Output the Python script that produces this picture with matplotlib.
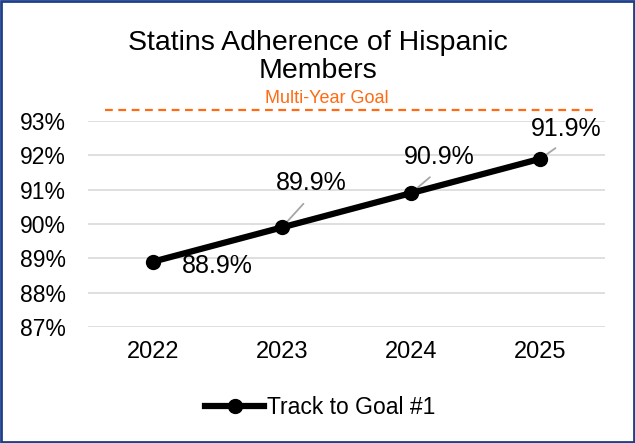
import matplotlib.pyplot as plt
from matplotlib.patches import Rectangle

plt.rcParams['font.family'] = ['Liberation Sans', 'DejaVu Sans']

years = ['2022', '2023', '2024', '2025']
track = [88.9, 89.9, 90.9, 91.9]
labels = ['88.9%', '89.9%', '90.9%', '91.9%']
goal = 93.32

fig = plt.figure(figsize=(6.35, 4.43), dpi=100)
ax = fig.add_axes([88/635, 1 - 327/443, (605-88)/635, (327-121)/443])

x = range(len(years))
ax.plot(x, track, color='black', lw=4.5, marker='o', ms=10, label='Track to Goal #1', zorder=3)

# goal line sits above the plot area
ax.plot([-0.37, 3.44], [goal, goal], color='#FF6A13', lw=1.6, ls=(0, (3.5, 2.5)), clip_on=False)
ax.text(1.35, goal + 0.1, 'Multi-Year Goal', color='#FF6A13', fontsize=13, ha='center', va='bottom')

# data labels with leader lines
offsets = [(0.23, -0.12), (0.23, 1.3), (0.22, 1.05), (0.2, 0.88)]
for i, (v, lab) in enumerate(zip(track, labels)):
    dx, dy = offsets[i]
    if i == 0:
        ax.text(i + dx, v + dy, lab, fontsize=18, ha='left', va='center')
    else:
        ax.annotate(lab, xy=(i, v), xytext=(i + dx, v + dy), fontsize=18, ha='center', va='center',
                    arrowprops=dict(arrowstyle='-', color='#A6A6A6', lw=1.3, relpos=(0.5, 0),
                                    shrinkA=6, shrinkB=0), zorder=2)

ax.set_xlim(-0.5, 3.5)
ax.set_ylim(87, 93)
ax.set_yticks([87, 88, 89, 90, 91, 92, 93])
ax.set_yticklabels([f'{t}%' for t in range(87, 94)], fontsize=16.5)
ax.set_xticks(list(x))
ax.set_xticklabels(years, fontsize=17)
ax.tick_params(axis='y', length=0, pad=16)
ax.tick_params(axis='x', length=0, pad=10)
ax.grid(axis='y', color='#D9D9D9', lw=1.2)
ax.set_axisbelow(True)
for s in ax.spines.values():
    s.set_visible(False)

fig.text(318/635, 1 - 57/443, 'Statins Adherence of Hispanic\nMembers', fontsize=20.5, ha='center', va='center',
         linespacing=1.05)

fig.legend(loc='center', bbox_to_anchor=(320/635, 1 - 408/443), frameon=False, fontsize=16.5,
           handlelength=2.6, handletextpad=0.1)

fig.patches.append(Rectangle((0.002, 0.002), 0.996, 0.996, transform=fig.transFigure, fill=False,
                             edgecolor='#1F3E8C', lw=2))

fig.savefig('out.png', dpi=100)
